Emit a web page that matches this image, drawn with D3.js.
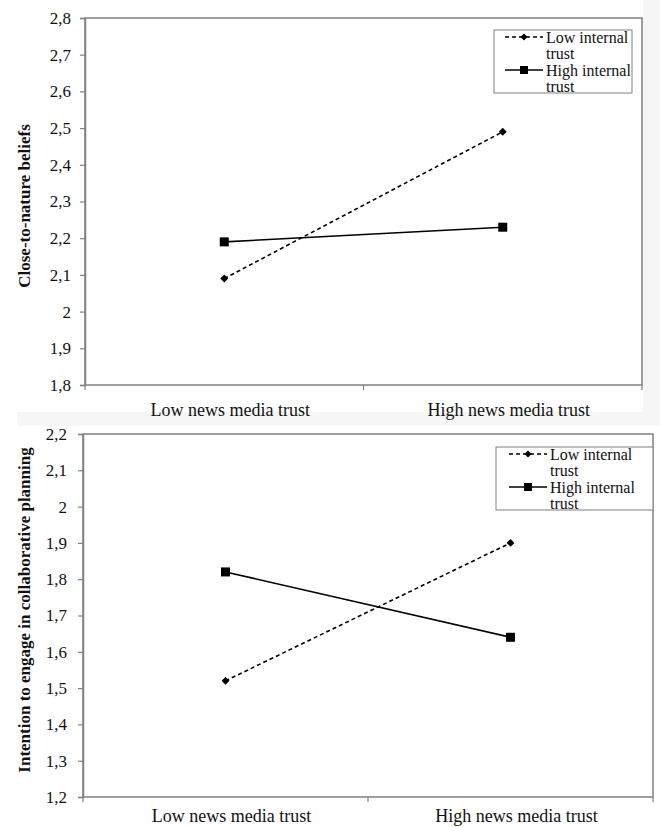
<!DOCTYPE html>
<html>
<head>
<meta charset="utf-8">
<script src="https://cdn.jsdelivr.net/npm/d3@7"></script>
<style>
  body { margin: 0; background: #fff; }
  svg { display: block; }
  svg text { font-family: "Liberation Serif", "Times New Roman", serif !important; }
</style>
</head>
<body>
<div id="chart"></div>
<script>
// DATA
const categories = ["Low news media trust", "High news media trust"];
const seriesNames = ["Low internal trust", "High internal trust"];
const legendLines = [["Low internal", "trust"], ["High internal", "trust"]];

// Panel 1: close-to-nature beliefs
const beliefsLow = [2.09, 2.49];
const beliefsHigh = [2.19, 2.23];
const beliefsTicks = [1.8, 1.9, 2.0, 2.1, 2.2, 2.3, 2.4, 2.5, 2.6, 2.7, 2.8];

// Panel 2: intention to engage in collaborative planning
const intentionLow = [1.52, 1.90];
const intentionHigh = [1.82, 1.64];
const intentionTicks = [1.2, 1.3, 1.4, 1.5, 1.6, 1.7, 1.8, 1.9, 2.0, 2.1, 2.2];

const W = 660, H = 827;
const svg = d3.select("#chart").append("svg")
    .attr("width", W)
    .attr("height", H);

// faint grey page strips between the two pasted figures
svg.append("rect").attr("x", 643).attr("y", 0).attr("width", 17).attr("height", 412).attr("fill", "#f6f6f6");
svg.append("rect").attr("x", 17).attr("y", 412).attr("width", 643).attr("height", 14).attr("fill", "#f6f6f6");

const fmt = v => (Number.isInteger(v) ? String(v) : d3.format(".1f")(v).replace(".", ","));

function drawPanel(p) {
    const g = svg.append("g");

    const x = d3.scaleBand().domain(categories).range([p.x0, p.x1]);
    const y = d3.scaleLinear().domain(d3.extent(p.ticks)).range([p.y1, p.y0]);

    // frame
    g.append("rect")
        .attr("x", p.x0).attr("y", p.y0)
        .attr("width", p.x1 - p.x0).attr("height", p.y1 - p.y0)
        .attr("fill", "#fff")
        .attr("stroke", "#808080")
        .attr("stroke-width", 1.5);

    // y axis
    const yAxis = g.append("g")
        .attr("transform", `translate(${p.x0},0)`)
        .call(d3.axisLeft(y).tickValues(p.ticks).tickFormat(fmt).tickSize(5).tickPadding(p.pad));
    yAxis.select(".domain").attr("stroke", "#808080").attr("stroke-width", 1.5);
    yAxis.selectAll(".tick line").attr("stroke", "#808080").attr("stroke-width", 1.2);
    yAxis.selectAll(".tick text")
        .attr("fill", "#111")
        .attr("font-size", 17);

    // x axis: ticks at band boundaries
    const bounds = [p.x0, p.x0 + x.bandwidth(), p.x1];
    g.selectAll(".xt").data(bounds).enter().append("line")
        .attr("x1", d => d).attr("x2", d => d)
        .attr("y1", p.y1).attr("y2", p.y1 + 5)
        .attr("stroke", "#808080").attr("stroke-width", 1.2);
    g.selectAll(".xl").data(categories).enter().append("text")
        .attr("x", d => x(d) + x.bandwidth() / 2 + 6)
        .attr("y", p.y1 + p.xLabelOff)
        .attr("text-anchor", "middle")
        .attr("font-size", 18)
        .attr("fill", "#111")
        .text(d => d);

    // y title
    g.append("text")
        .attr("transform", `translate(${p.titleX},${p.titleY}) rotate(-90)`)
        .attr("text-anchor", "middle")
        .attr("font-size", 17)
        .attr("font-weight", "bold")
        .attr("fill", "#111")
        .text(p.title);

    const cx = d => x(d) + x.bandwidth() / 2;
    const line = d3.line().x(d => cx(d.cat)).y(d => y(d.v));
    const lowData = categories.map((c, i) => ({ cat: c, v: p.low[i] }));
    const highData = categories.map((c, i) => ({ cat: c, v: p.high[i] }));

    g.append("path").datum(lowData)
        .attr("d", line).attr("fill", "none")
        .attr("stroke", "#000").attr("stroke-width", 1.6)
        .attr("stroke-dasharray", "4,3");
    g.append("path").datum(highData)
        .attr("d", line).attr("fill", "none")
        .attr("stroke", "#000").attr("stroke-width", 1.6);

    const diamond = d3.symbol().type(d3.symbolDiamond2).size(40);
    g.selectAll(".dm").data(lowData).enter().append("path")
        .attr("d", diamond)
        .attr("transform", d => `translate(${cx(d.cat)},${y(d.v)})`)
        .attr("fill", "#000");
    g.selectAll(".sq").data(highData).enter().append("rect")
        .attr("x", d => cx(d.cat) - 4.5).attr("y", d => y(d.v) - 4.5)
        .attr("width", 9).attr("height", 9)
        .attr("fill", "#000");

    // legend
    const lg = g.append("g").attr("transform", `translate(${p.lx},${p.ly})`);
    lg.append("rect")
        .attr("width", p.lw).attr("height", 63)
        .attr("fill", "#fff").attr("stroke", "#808080").attr("stroke-width", 1);
    seriesNames.forEach((s, i) => {
        const ly = 7 + i * 33;
        const lx0 = p.lsx, lx1 = p.lsx + 38;
        lg.append("line")
            .attr("x1", lx0).attr("x2", lx1).attr("y1", ly).attr("y2", ly)
            .attr("stroke", "#000").attr("stroke-width", 1.6)
            .attr("stroke-dasharray", i === 0 ? "4,3" : null);
        if (i === 0) {
            lg.append("path").attr("d", d3.symbol().type(d3.symbolDiamond2).size(32))
                .attr("transform", `translate(${(lx0 + lx1) / 2},${ly})`).attr("fill", "#000");
        } else {
            lg.append("rect").attr("x", (lx0 + lx1) / 2 - 4).attr("y", ly - 4)
                .attr("width", 8).attr("height", 8).attr("fill", "#000");
        }
        legendLines[i].forEach((t, j) => {
            lg.append("text")
                .attr("x", lx1 + 3)
                .attr("y", ly + 6 + j * 16)
                .attr("font-size", 16)
                .attr("fill", "#111")
                .text(t);
        });
    });
}

drawPanel({
    x0: 85, x1: 642, y0: 18, y1: 385,
    ticks: beliefsTicks, low: beliefsLow, high: beliefsHigh,
    pad: 9, xLabelOff: 31,
    title: "Close-to-nature beliefs", titleX: 30, titleY: 206,
    lx: 494, ly: 30, lw: 138, lsx: 11
});

drawPanel({
    x0: 83, x1: 653, y0: 434, y1: 797,
    ticks: intentionTicks, low: intentionLow, high: intentionHigh,
    pad: 11, xLabelOff: 25,
    title: "Intention to engage in collaborative planning", titleX: 30, titleY: 610,
    lx: 496, ly: 447, lw: 157, lsx: 13
});
</script>
</body>
</html>
